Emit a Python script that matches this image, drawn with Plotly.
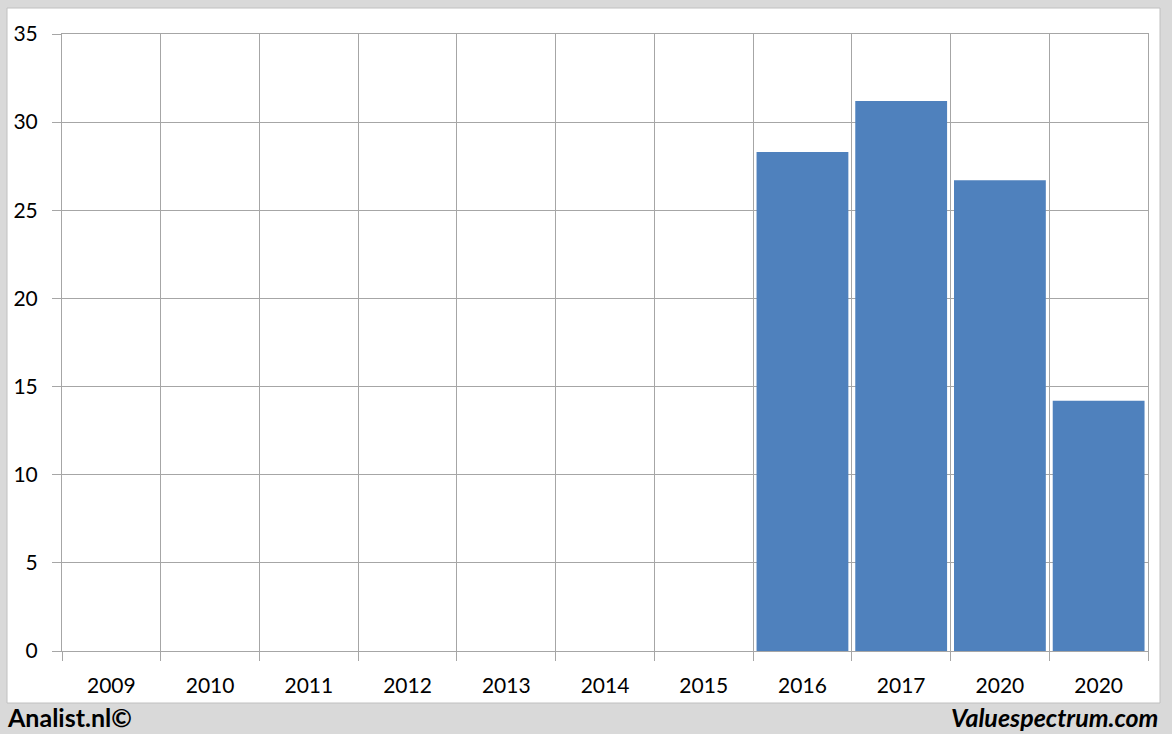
import plotly.graph_objects as go

years = ["2009", "2010", "2011", "2012", "2013", "2014", "2015", "2016", "2017", "2020", "2020"]
values = [None, None, None, None, None, None, None, 28.3, 31.2, 26.7, 14.2]
y_ticks = [0, 5, 10, 15, 20, 25, 30, 35]

positions = list(range(len(years)))
grid = "#a6a6a6"

fig = go.Figure(go.Bar(x=positions, y=values, marker=dict(color="#4f81bd", line=dict(width=0)),
                       hoverinfo="skip"))

fig.update_layout(
    width=1172, height=734,
    margin=dict(l=62, r=24, t=34, b=83),
    paper_bgcolor="#d9d9d9", plot_bgcolor="white",
    bargap=0.07, showlegend=False,
    font=dict(family="Lato", size=21, color="black"),
    shapes=[dict(type="rect", xref="paper", yref="paper", layer="below",
                 x0=-55/1086, x1=1098/1086, y0=-52/617, y1=643/617,
                 fillcolor="white", line=dict(color="#c0c0c0", width=1))],
    annotations=[
        dict(text="<b>Analist.nl©</b>", xref="paper", yref="paper", x=-57/1086, y=-66/617,
             xanchor="left", yanchor="middle", showarrow=False, font=dict(size=25, family="Lato")),
        dict(text="<b><i>Valuespectrum.com</i></b>", xref="paper", yref="paper", x=1098/1086, y=-66/617,
             xanchor="right", yanchor="middle", showarrow=False, font=dict(size=25, family="Lato")),
    ],
)
fig.update_xaxes(
    range=[-0.5, len(years) - 0.5], tickvals=positions, ticktext=years,
    ticks="", showgrid=False, showline=True, mirror=True, linecolor=grid, linewidth=1,
    ticklabelstandoff=16, zeroline=False,
    minor=dict(tick0=-0.5, dtick=1, showgrid=True, gridcolor=grid, gridwidth=1,
               ticks="outside", ticklen=9, tickcolor=grid),
)
fig.update_yaxes(
    range=[0, 35], tickvals=y_ticks, showgrid=True, gridcolor=grid, gridwidth=1,
    ticks="outside", ticklen=9, tickcolor=grid, showline=True, mirror=True, linecolor=grid,
    zeroline=False, ticklabelstandoff=10,
)
fig.write_html("out.html", config={"displayModeBar": False},
               post_script="document.body.style.margin='0';document.body.style.overflow='hidden';")
